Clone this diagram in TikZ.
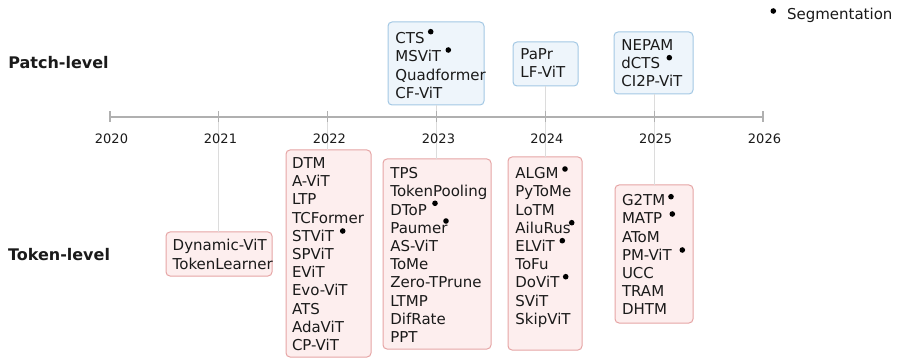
\documentclass[tikz,border=0pt]{standalone}
\usepackage{fontspec}
\setmainfont{DejaVu Sans}

\definecolor{patchfill}{HTML}{EEF5FB}
\definecolor{patchedge}{HTML}{A3C8E4}
\definecolor{tokenfill}{HTML}{FDEEEE}
\definecolor{tokenedge}{HTML}{E6A5A5}
\definecolor{axisgray}{HTML}{B0B0B0}
\definecolor{linkgray}{HTML}{DCDCDC}
\definecolor{ink}{HTML}{1A1A1A}

\newcommand{\boxfont}{\fontsize{15}{18.2}\selectfont}
\newcommand{\yearfont}{\fontsize{13}{15}\selectfont}
\newcommand{\levelfont}{\bfseries\fontsize{16}{19}\selectfont}

\tikzset{
  every node/.style={inner sep=0pt, outer sep=0pt, text=ink},
  groupbox/.style={rounded corners=4pt, line width=1pt, anchor=north west},
  patchbox/.style={groupbox, draw=patchedge, fill=patchfill},
  tokenbox/.style={groupbox, draw=tokenedge, fill=tokenfill},
  namelist/.style={align=left, anchor=north west, font=\boxfont},
  axisline/.style={draw=axisgray, line width=1.6pt},
  yeartick/.style={draw=axisgray, line width=1.2pt},
  yearlabel/.style={font=\yearfont},
  levellabel/.style={font=\levelfont},
  vlink/.style={draw=linkgray, line width=0.9pt},
  segdot/.style={fill=black}
}

\begin{document}
\begin{tikzpicture}[x=1pt,y=-1pt]
\useasboundingbox (0,0) rectangle (897,358);

% positions of the years on the time axis
\coordinate (y2020) at (110,117);
\coordinate (y2021) at (218.8,117);
\coordinate (y2022) at (327.7,117);
\coordinate (y2023) at (436.5,117);
\coordinate (y2024) at (545.3,117);
\coordinate (y2025) at (654.2,117);
\coordinate (y2026) at (763,117);

% group frames (top-left corner, size)
\node[patchbox, minimum width=96pt, minimum height=83pt]  (p23) at (388,22)  {};
\node[patchbox, minimum width=65pt, minimum height=44pt]  (p24) at (513,42)  {};
\node[patchbox, minimum width=79pt, minimum height=62pt]  (p25) at (614,32)  {};
\node[tokenbox, minimum width=106pt, minimum height=44pt] (t21) at (166,232) {};
\node[tokenbox, minimum width=85pt, minimum height=207pt] (t22) at (286,150) {};
\node[tokenbox, minimum width=108pt, minimum height=190pt](t23) at (383,159) {};
\node[tokenbox, minimum width=74pt, minimum height=193pt] (t24) at (508,157) {};
\node[tokenbox, minimum width=78pt, minimum height=138pt] (t25) at (615,185) {};

% method names inside the frames
\node[namelist] (p23names) at (395.4,32.5)  {CTS\\MSViT\\Quadformer\\CF-ViT};
\node[namelist] (p24names) at (520.4,48.5)  {PaPr\\LF-ViT};
\node[namelist] (p25names) at (621.4,39.5)  {NEPAM\\dCTS\\CI2P-ViT};
\node[namelist] (t21names) at (172.7,239.5) {Dynamic-ViT\\TokenLearner};
\node[namelist] (t22names) at (292,157.5)   {DTM\\A-ViT\\LTP\\TCFormer\\STViT\\SPViT\\EViT\\Evo-ViT\\ATS\\AdaViT\\CP-ViT};
\node[namelist] (t23names) at (390.4,167.5) {TPS\\TokenPooling\\DToP\\Paumer\\AS-ViT\\ToMe\\Zero-TPrune\\LTMP\\DifRate\\PPT};
\node[namelist] (t24names) at (515.4,167.5) {ALGM\\PyToMe\\LoTM\\AiluRus\\ELViT\\ToFu\\DoViT\\SViT\\SkipViT};
\node[namelist] (t25names) at (622,194.5)   {G2TM\\MATP\\AToM\\PM-ViT\\UCC\\TRAM\\DHTM};

% links between the frames and the axis
\draw[vlink] (y2021) -- (y2021 |- t21.north);
\draw[vlink] (y2022) -- (y2022 |- t22.north);
\draw[vlink] (y2023 |- p23.south) -- (y2023 |- t23.north);
\draw[vlink] (y2024 |- p24.south) -- (y2024 |- t24.north);
\draw[vlink] (y2025 |- p25.south) -- (y2025 |- t25.north);

% time axis with ticks and year labels
\draw[axisline] (y2020) -- (y2026);
\foreach \yr/\lx in {2020/111.5,2021/220.5,2022/329.3,2023/438.5,2024/546.8,2025/655.7,2026/764.5}{
  \draw[yeartick] (y\yr) ++(0,-5.5) -- ++(0,11);
  \node[yearlabel] (l\yr) at (\lx,139) {\yr};
}

% row labels
\node[levellabel] (patchlabel) at (58.5,63) {Patch-level};
\node[levellabel] (tokenlabel) at (59,255) {Token-level};

% segmentation markers
\fill[segdot] (430.7,31.7) circle (2.8pt);
\fill[segdot] (448.3,50) circle (2.8pt);
\fill[segdot] (669.3,57.7) circle (2.8pt);
\fill[segdot] (342.7,231) circle (2.8pt);
\fill[segdot] (435,203.3) circle (2.8pt);
\fill[segdot] (446,221) circle (2.8pt);
\fill[segdot] (565,169) circle (2.8pt);
\fill[segdot] (571.7,222.7) circle (2.8pt);
\fill[segdot] (562.3,240.7) circle (2.8pt);
\fill[segdot] (565.7,276.7) circle (2.8pt);
\fill[segdot] (671,196.7) circle (2.8pt);
\fill[segdot] (672.3,214) circle (2.8pt);
\fill[segdot] (682.3,250) circle (2.8pt);

% legend
\fill[segdot] (773.3,11) circle (2.8pt);
\node[anchor=west, font=\boxfont] (seglegend) at (787,15) {Segmentation};
\end{tikzpicture}
\end{document}
